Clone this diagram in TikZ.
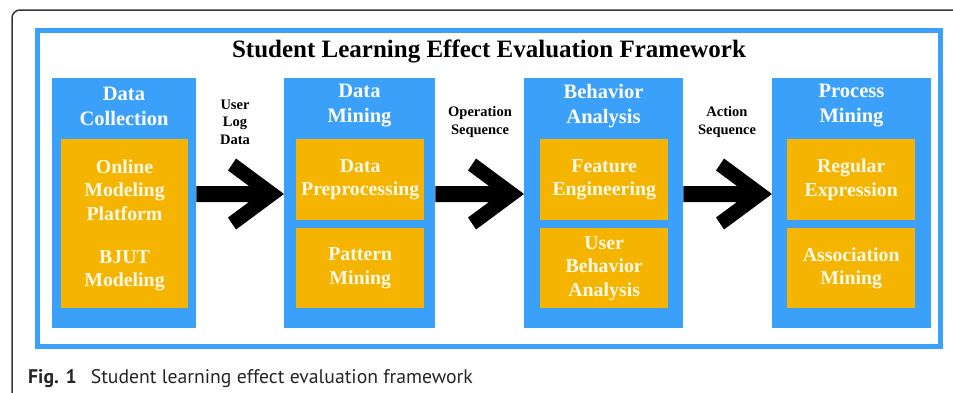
\documentclass[tikz,border=0pt]{standalone}
\usepackage{fontspec}
\setmainfont{Liberation Serif}
\newfontfamily\capfont{PT Sans}
\usetikzlibrary{calc}

\definecolor{panelblue}{RGB}{58,160,250}
\definecolor{stepgold}{RGB}{245,180,0}
\definecolor{framegrey}{RGB}{55,55,55}
\definecolor{cream}{RGB}{255,249,232}

% thick chevron arrow from the east side of #1 to the west side of #2
\newcommand\flowarrow[2]{%
  \coordinate (ft) at (#1.east |- arrowaxis);
  \coordinate (fh) at (#2.west |- arrowaxis);
  \fill[black] ($(ft)+(0,-8)$) -- ($(fh)+(-35,-8)$) -- ($(fh)+(-56,-23.5)$)
    -- ($(fh)+(-48,-35.5)$) -- (fh) -- ($(fh)+(-48,35.5)$)
    -- ($(fh)+(-56,23.5)$) -- ($(fh)+(-35,8)$) -- ($(ft)+(0,8)$) -- cycle;
}

\begin{document}
\begin{tikzpicture}[x=1pt,y=-1pt,
  stage/.style={fill=panelblue, draw=none, inner sep=0pt, anchor=north west},
  task/.style={fill=stepgold, draw=none, inner sep=0pt, anchor=north west,
    text=cream, align=center, font=\bfseries\fontsize{19.8}{23.5}\selectfont},
  tasktext/.style={text=cream, align=center, inner sep=0pt,
    font=\bfseries\fontsize{19.8}{23.5}\selectfont},
  head/.style={text=white, align=center, inner sep=0pt,
    font=\bfseries\fontsize{20.5}{25}\selectfont},
  flowlabel/.style={text=black, align=center, inner sep=0pt,
    font=\bfseries\fontsize{14.5}{17.5}\selectfont},
]
\clip (0,0) rectangle (953,392);
\fill[white] (0,0) rectangle (953,392);

% outer figure frame and caption
\draw[framegrey, line width=1.5pt, rounded corners=8pt] (12,10) rectangle (990,430);
\node[anchor=base west, inner sep=0pt, text=black!85,
  font=\capfont\fontsize{19.7}{24}\selectfont] (caption) at (28,383)
  {\textbf{Fig. 1}\hspace{0.45em} Student learning effect evaluation framework};

% framework border and title
\draw[panelblue, line width=5pt] (37.5,30.5) rectangle (940.5,346.5);
\node[anchor=base, inner sep=0pt, font=\bfseries\fontsize{25}{30}\selectfont]
  (title) at (489,57) {Student Learning Effect Evaluation Framework};

% stages
\node[stage, minimum width=144pt, minimum height=250pt] (s1) at (52,78) {};
\node[stage, minimum width=151pt, minimum height=250pt] (s2) at (284,78) {};
\node[stage, minimum width=159pt, minimum height=250pt] (s3) at (524,78) {};
\node[stage, minimum width=159pt, minimum height=250pt] (s4) at (772,78) {};

\node[head] (h1) at (124,106) {Data\\Collection};
\node[head] (h2) at (359.5,106) {Data\\Mining};
\node[head] (h3) at (603.5,106) {Behavior\\Analysis};
\node[head] (h4) at (851.5,106) {Process\\Mining};

% tasks inside each stage
\node[task, minimum width=127pt, minimum height=169pt] (t1) at (61,139) {};
\node[tasktext] (t1a) at (124.5,190) {Online\\Modeling\\Platform};
\node[tasktext] (t1b) at (124.5,270.5) {BJUT\\Modeling};

\node[task, minimum width=128pt, minimum height=81pt] (t2a) at (296,139) {Data\\Preprocessing};
\node[task, minimum width=128pt, minimum height=80pt] (t2b) at (296,228) {Pattern\\Mining};

\node[task, minimum width=128pt, minimum height=81pt] (t3a) at (540,139) {Feature\\Engineering};
\node[task, minimum width=128pt, minimum height=80pt] (t3b) at (540,228) {User\\Behavior\\Analysis};

\node[task, minimum width=128pt, minimum height=81pt] (t4a) at (787,139) {Regular\\Expression};
\node[task, minimum width=128pt, minimum height=80pt] (t4b) at (787,228) {Association\\Mining};

% data flow between stages
\coordinate (arrowaxis) at (0,194);
\flowarrow{s1}{s2}
\flowarrow{s2}{s3}
\flowarrow{s3}{s4}

\node[flowlabel] (l1) at (235,122) {User\\Log\\Data};
\node[flowlabel] (l2) at (480,122) {Operation\\Sequence};
\node[flowlabel] (l3) at (727,122) {Action\\Sequence};
\end{tikzpicture}
\end{document}
